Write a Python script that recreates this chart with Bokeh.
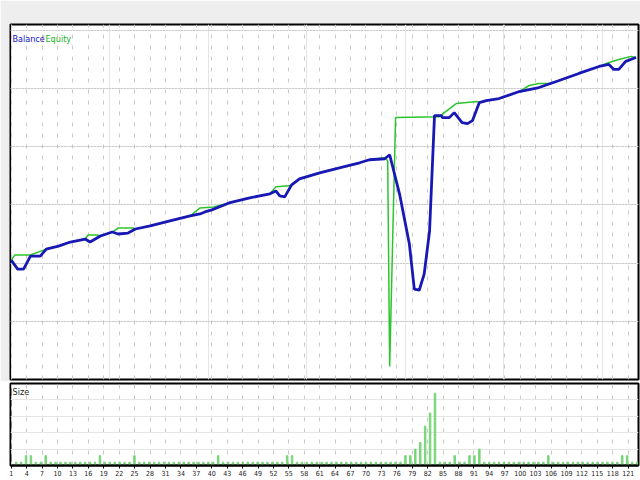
from bokeh.plotting import figure
from bokeh.models import Range1d, FixedTicker, Grid, Label
from bokeh.layouts import column
from bokeh.embed import file_html
from bokeh.resources import INLINE

# ---- data ----
bal_t = [0, 1.3, 2.5, 3.9, 5.9, 7.1, 9.6, 12.0, 15.0, 16.0, 18.1, 20.5, 21.7, 23.7, 25.2,
         28.2, 32.2, 36.3, 38.3, 39.3, 40.7, 44.2, 48.4, 52.5, 53.7, 54.5, 55.5, 56.9, 58.5,
         62.6, 66.6, 70.7, 72.7, 75.8, 76.8, 78.8, 80.8, 81.8, 82.8, 83.8, 84.9, 85.9, 87.3,
         87.5, 88.9, 89.9, 91.5, 92.6, 93.6, 95.0, 96.4, 99.0, 103.1, 107.1, 111.2, 115.2,
         119.3, 121.3, 122.3, 123.3, 124.7, 126.8]
bal_v = [10052, 9897, 9897, 10121, 10121, 10241, 10293, 10362, 10414, 10362, 10466, 10534,
         10500, 10517, 10586, 10638, 10724, 10810, 10845, 10879, 10914, 11034, 11121, 11190,
         11241, 11155, 11138, 11345, 11448, 11552, 11638, 11724, 11776, 11793, 11862, 11190,
         10328, 9552, 9534, 9810, 10552, 12534, 12534, 12500, 12500, 12586, 12414, 12397,
         12448, 12759, 12793, 12828, 12948, 13017, 13138, 13259, 13379, 13414, 13328, 13328,
         13466, 13534]
eq_t = [0, 0.7, 3.9, 7.1, 9.6, 12.0, 15.0, 15.6, 17.4, 18.1, 20.5, 21.7, 24.7, 25.2, 28.2,
        32.2, 36.3, 38.3, 41.1, 44.2, 48.4, 52.5, 53.7, 56.5, 56.9, 58.5, 62.6, 66.6, 70.7,
        72.7, 75.8, 76.4, 76.8, 78.0, 86.9, 87.9, 90.3, 94.6, 95.0, 96.4, 99.0, 103.1, 105.1,
        107.1, 109.6, 111.2, 115.2, 119.3, 121.3, 123.3, 125.8, 126.8]
eq_v = [10052, 10138, 10138, 10241, 10293, 10362, 10414, 10483, 10483, 10466, 10534, 10603,
        10603, 10586, 10638, 10724, 10810, 10948, 10966, 11034, 11121, 11190, 11310, 11328,
        11345, 11448, 11552, 11638, 11724, 11776, 11810, 11759, 8224, 12500, 12517, 12586,
        12741, 12776, 12759, 12793, 12828, 12948, 13052, 13086, 13086, 13138, 13259, 13379,
        13448, 13500, 13552, 13534]
size_lots = [0.01, 0.01, 0.03, 0.03, 0.01, 0.01, 0.03, 0.01, 0.01, 0.01,
             0.01, 0.01, 0.01, 0.01, 0.01, 0.01, 0.01, 0.03, 0.01, 0.01,
             0.01, 0.01, 0.01, 0.01, 0.03, 0.01, 0.01, 0.01, 0.01, 0.01,
             0.01, 0.01, 0.01, 0.01, 0.01, 0.01, 0.01, 0.01, 0.01, 0.01,
             0.01, 0.03, 0.01, 0.01, 0.01, 0.01, 0.01, 0.01, 0.01, 0.01,
             0.01, 0.01, 0.01, 0.01, 0.01, 0.03, 0.03, 0.01, 0.01, 0.01,
             0.01, 0.01, 0.01, 0.01, 0.01, 0.01, 0.01, 0.01, 0.01, 0.01,
             0.01, 0.01, 0.01, 0.01, 0.01, 0.01, 0.01, 0.01, 0.01, 0.03,
             0.03, 0.05, 0.07, 0.12, 0.16, 0.22, 0.01, 0.01, 0.01, 0.03,
             0.01, 0.01, 0.03, 0.03, 0.05, 0.01, 0.01, 0.01, 0.01, 0.01,
             0.01, 0.01, 0.01, 0.01, 0.01, 0.01, 0.01, 0.01, 0.03, 0.01,
             0.01, 0.01, 0.01, 0.01, 0.01, 0.01, 0.01, 0.01, 0.01, 0.01,
             0.01, 0.01, 0.01, 0.03, 0.03, 0.01, 0.01]
size_t = list(range(1, len(size_lots) + 1))
tick_labels = ["1", "4", "7", "10", "13", "16", "19", "22", "25", "28", "31", "34", "37",
               "40", "43", "46", "49", "52", "55", "58", "61", "64", "67", "70", "73", "76",
               "79", "82", "85", "88", "91", "94", "97", "100", "103", "106", "109", "112",
               "115", "118", "121"]
y_grid_values = [9000, 10000, 11000, 12000, 13000, 14000]

TICK_STEP = 3.13
xticks = [round(k * TICK_STEP, 2) for k in range(len(tick_labels))]
NARROW = "Liberation Sans Narrow, DejaVu Sans Condensed, Liberation Sans"

xr = Range1d(-0.15, 127.3)

# ---- main chart ----
p = figure(width=640, height=381, x_range=xr, y_range=Range1d(8000, 14100),
           x_axis_location=None, y_axis_location=None, toolbar_location=None,
           output_backend="svg", min_border_left=10, min_border_right=2,
           min_border_top=24, min_border_bottom=2,
           border_fill_color="#eeeeee", background_fill_color="white",
           outline_line_color="black", outline_line_width=2)
p.add_layout(Grid(dimension=0, ticker=FixedTicker(ticks=xticks),
                  grid_line_color="#c8c8c8", grid_line_dash="4 7"))
p.add_layout(Grid(dimension=1, ticker=FixedTicker(ticks=y_grid_values),
                  grid_line_color="#b0b0b0", grid_line_dash="1 2"))

p.line(eq_t, eq_v, line_color="#2cc42c", line_width=1.5)
p.line(bal_t, bal_v, line_color="#1818b4", line_width=2.8)

p.add_layout(Label(x=xr.start, y=13930, x_offset=2, text="Balance", text_color="#1010c8",
                   text_font=NARROW, text_font_size="9px", text_baseline="top"))
p.add_layout(Label(x=xr.start, y=13930, x_offset=31, text="/", text_color="#888888",
                   text_font=NARROW, text_font_size="9px", text_baseline="top"))
p.add_layout(Label(x=xr.start, y=13930, x_offset=35, text="Equity", text_color="#20b020",
                   text_font=NARROW, text_font_size="9px", text_baseline="top"))

# ---- size chart ----
q = figure(width=640, height=99, x_range=xr, y_range=Range1d(0, 0.25),
           y_axis_location=None, toolbar_location=None, output_backend="svg",
           min_border_left=10, min_border_right=2, min_border_top=2, min_border_bottom=15,
           border_fill_color="white", background_fill_color="white",
           outline_line_color="black", outline_line_width=2)
q.xaxis.ticker = FixedTicker(ticks=xticks)
q.xaxis.major_label_overrides = {xticks[i]: tick_labels[i] for i in range(len(xticks))}
q.xaxis.axis_line_width = 2
q.xaxis.axis_line_color = "black"
q.xaxis.major_tick_out = 3
q.xaxis.major_tick_in = 0
q.xaxis.minor_tick_line_color = None
q.xaxis.major_label_text_font_size = "7px"
q.xaxis.major_label_text_font = NARROW
q.xaxis.major_label_text_color = "#222222"
q.xaxis.major_label_standoff = 1
q.xgrid.grid_line_color = "#c8c8c8"
q.xgrid.grid_line_dash = "4 7"

q.vbar(x=size_t, top=size_lots, width=0.3, fill_color="#78d478", line_color="#78d478")
q.add_layout(Label(x=xr.start, y=0.24, x_offset=2, text="Size", text_color="#222222",
                   text_font=NARROW, text_font_size="9px", text_baseline="top"))

layout = column(p, q, spacing=0)
open("out.html", "w").write(file_html(layout, INLINE))
